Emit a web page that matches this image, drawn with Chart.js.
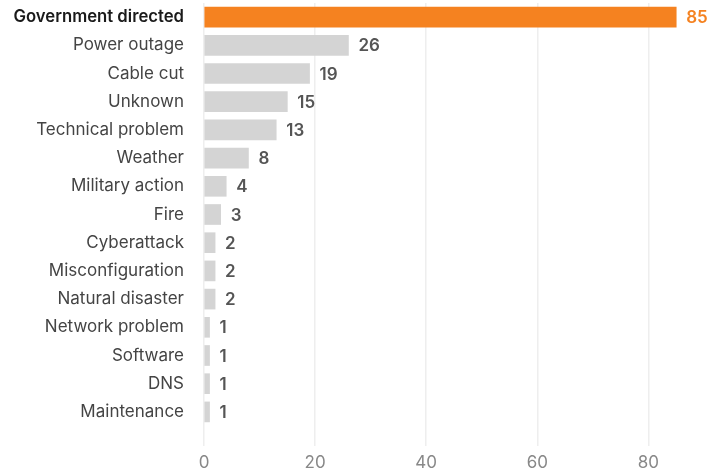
<!doctype html>
<html lang="en">
<head>
<meta charset="utf-8">
<script src="https://cdn.jsdelivr.net/npm/chart.js"></script>
<title>Outage causes</title>
<style>
  html, body { margin: 0; padding: 0; background: #fff; }
  #wrap { width: 721px; height: 471px; }
</style>
</head>
<body>
<div id="wrap"><canvas id="myChart" width="721" height="471"></canvas></div>
<script>
// data
const causes = ['Government directed', 'Power outage', 'Cable cut', 'Unknown', 'Technical problem',
  'Weather', 'Military action', 'Fire', 'Cyberattack', 'Misconfiguration', 'Natural disaster',
  'Network problem', 'Software', 'DNS', 'Maintenance'];
const counts = [85, 26, 19, 15, 13, 8, 4, 3, 2, 2, 2, 1, 1, 1, 1];
const xTicks = [0, 20, 40, 60, 80];

const ORANGE = '#f58220';
const GREY = '#d4d4d4';

// value labels at the end of each bar
const valueLabels = {
  id: 'valueLabels',
  afterDatasetsDraw(chart) {
    const ctx = chart.ctx;
    const meta = chart.getDatasetMeta(0);
    const xs = chart.scales.x;
    ctx.save();
    ctx.font = '600 17px Inter';
    ctx.textBaseline = 'middle';
    ctx.textAlign = 'left';
    meta.data.forEach((bar, i) => {
      ctx.fillStyle = i === 0 ? ORANGE : '#555555';
      ctx.fillText(counts[i], xs.getPixelForValue(counts[i]) + 10, bar.y + 1);
    });
    ctx.restore();
  }
};

new Chart(document.getElementById('myChart'), {
  type: 'bar',
  data: {
    labels: causes,
    datasets: [{
      data: counts,
      backgroundColor: counts.map((v, i) => i === 0 ? ORANGE : GREY),
      barThickness: 20,
      borderWidth: 0
    }]
  },
  options: {
    indexAxis: 'y',
    responsive: false,
    animation: false,
    layout: { padding: { top: 3, right: 17, left: 0, bottom: 0 } },
    plugins: {
      legend: { display: false },
      tooltip: { enabled: false }
    },
    scales: {
      x: {
        min: 0,
        max: 90,
        afterBuildTicks: s => { s.ticks = xTicks.map(v => ({ value: v })); },
        afterFit: s => { s.height = 45; },
        border: { display: false },
        grid: { color: '#eeeeee', lineWidth: 1.5, tickLength: 20 },
        ticks: {
          color: '#888888',
          padding: 7,
          font: { family: 'Inter', size: 17 }
        }
      },
      y: {
        afterFit: s => { s.width = 204; s.paddingTop = 0; s.paddingBottom = 0; },
        border: { display: false },
        grid: { display: false },
        ticks: {
          padding: 12,
          color: ctx => ctx.index === 0 ? '#1a1a1a' : '#444444',
          font: ctx => ({ family: 'Inter', size: ctx.index === 0 ? 16.7 : 17, weight: ctx.index === 0 ? '600' : '400' })
        }
      }
    }
  },
  plugins: [valueLabels]
});
</script>
</body>
</html>
